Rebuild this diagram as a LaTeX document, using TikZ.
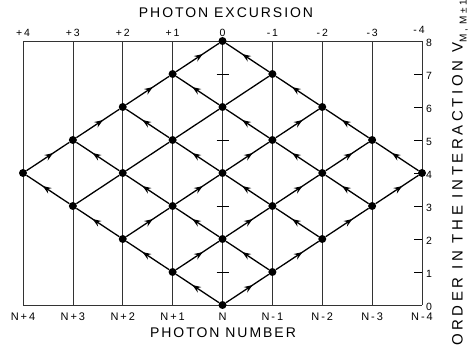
\documentclass[tikz,border=0pt]{standalone}
\usepackage{fontspec}
\setmainfont{Liberation Sans}
\newfontfamily\spc[LetterSpace=18]{Liberation Sans}
\newfontfamily\spcb[LetterSpace=14]{Liberation Sans}
\newfontfamily\spcr[LetterSpace=24]{Liberation Sans}
\usetikzlibrary{arrows.meta,decorations.markings}
\begin{document}
\begin{tikzpicture}[x=1pt,y=1pt,
  frameline/.style={line width=0.7pt, black!80},
  edgeline/.style={line width=1.3pt},
  arr/.style={edgeline, postaction={decorate}, decoration={markings,
     mark=at position 0.62 with {\arrow{Stealth[length=8.5pt,width=6.5pt,inset=3pt]}}}},
  dot/.style={circle, fill, inner sep=0pt, minimum size=8pt},
  numlab/.style={font=\spc\fontsize{10.5}{12}\selectfont, inner sep=0pt},
  botlab/.style={font=\spc\fontsize{11}{12}\selectfont, inner sep=0pt},
  titlab/.style={font=\spcb\fontsize{14}{16}\selectfont, inner sep=0pt},
  tickline/.style={line width=0.7pt}
]
\useasboundingbox (0,0) rectangle (469,350);
% grid
\foreach \i in {0,...,8}
  \draw[frameline] ({23+\i*49.875},45) -- ({23+\i*49.875},309);
\draw[frameline] (23,45) -- (422,45);
\draw[frameline] (23,309) -- (422,309);
% center ticks
\foreach \l in {1,3,5,7}
  \draw[tickline] ({23+4*49.875-6},{45+\l*33}) -- ({23+4*49.875+6},{45+\l*33});
% right ticks
\foreach \l in {1,...,7}
  \draw[tickline] (414,{45+\l*33}) -- (422,{45+\l*33});
% nodes
\foreach \i/\l in {4/0, 3/1,5/1, 2/2,4/2,6/2, 1/3,3/3,5/3,7/3, 0/4,2/4,4/4,6/4,8/4,
                   1/5,3/5,5/5,7/5, 2/6,4/6,6/6, 3/7,5/7, 4/8}
  \node[dot] (n\i\l) at ({23+\i*49.875},{45+\l*33}) {};
% up-right edges with arrows
\foreach \a/\b in {40/51, 31/42, 51/62, 22/33, 42/53, 62/73, 33/44, 53/64, 73/84,
                   04/15, 44/55, 64/75, 15/26, 55/66, 26/37, 37/48}
  \draw[arr] (n\a) -- (n\b);
% up-right edges without arrows
\foreach \a/\b in {13/24, 24/35, 35/46, 46/57}
  \draw[edgeline] (n\a) -- (n\b);
% up-left edges with arrows
\foreach \a/\b in {40/31, 51/42, 31/22, 62/53, 42/33, 22/13, 73/64, 53/44, 33/24, 13/04,
                   84/75, 64/55, 44/35, 24/15, 75/66, 55/46, 35/26, 66/57, 46/37, 57/48}
  \draw[arr] (n\a) -- (n\b);
% top labels
\foreach \i/\t in {0/+4,1/+3,2/+2,3/+1,4/0,5/-1,6/-2,7/-3}
  \node[numlab] (top\i) at ({23+\i*49.875},317) {\t};
\node[numlab] (top8) at (419,320) {-4};
% right labels
\foreach \l in {0,...,8}
  \node[numlab, anchor=west] (r\l) at (426,{45+\l*33-2}) {\l};
% bottom labels
\foreach \i/\t in {0/N+4,1/N+3,2/N+2,3/N+1,4/N,5/N-1,6/N-2,7/N-3,8/N-4}
  \node[botlab] (b\i) at ({23+\i*49.875},33) {\t};
\node[titlab] (tt) at (226,337.5) {PHOTON EXCURSION};
\node[titlab] (bt) at (223,17.5) {PHOTON NUMBER};
\node[titlab, rotate=90, anchor=west, font=\spcr\fontsize{15}{16}\selectfont] (rt) at (460,4)
  {ORDER IN THE INTERACTION V\raisebox{-0.5ex}{\fontsize{10}{11}\selectfont M, M±1}};
\end{tikzpicture}
\end{document}
